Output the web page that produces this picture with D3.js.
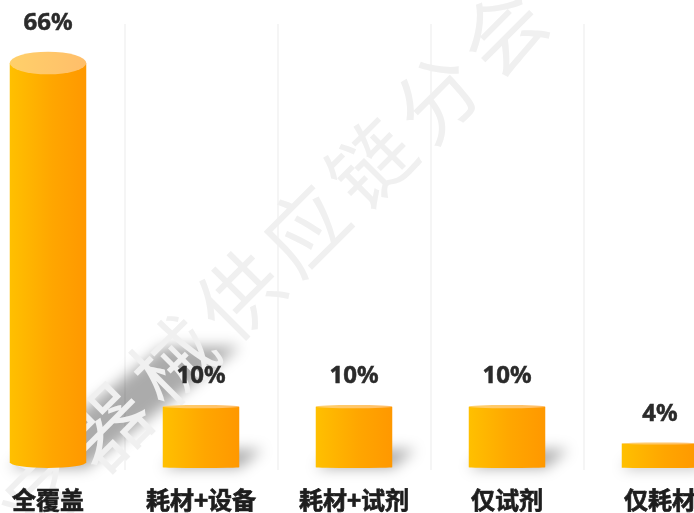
<!DOCTYPE html>
<html>
<head>
<meta charset="utf-8">
<script src="https://cdn.jsdelivr.net/npm/d3@7"></script>
<style>
  html, body { margin: 0; padding: 0; background: #fff; overflow: hidden; }
  svg { display: block; }
</style>
</head>
<body>
<div id="chart"></div>
<script>
// chart data
const categories = ['全覆盖', '耗材+设备', '耗材+试剂', '仅试剂', '仅耗材'];
const shares = [66, 10, 10, 10, 4];
const valueLabels = ['66%', '10%', '10%', '10%', '4%'];
const watermark = '医疗器械供应链分会';

const width = 694;
const height = 513;
const baseY = 468;

const svg = d3.select('#chart')
  .append('svg')
  .attr('width', width)
  .attr('height', height);

const defs = svg.append('defs');

const bodyGrad = defs.append('linearGradient')
  .attr('id', 'body-grad')
  .attr('x1', '0%').attr('x2', '100%').attr('y1', '0%').attr('y2', '0%');
bodyGrad.append('stop').attr('offset', '0%').attr('stop-color', '#ffc000');
bodyGrad.append('stop').attr('offset', '55%').attr('stop-color', '#ffa600');
bodyGrad.append('stop').attr('offset', '100%').attr('stop-color', '#ff9800');

const topGrad = defs.append('linearGradient')
  .attr('id', 'top-grad')
  .attr('x1', '0%').attr('x2', '100%').attr('y1', '0%').attr('y2', '0%');
topGrad.append('stop').attr('offset', '0%').attr('stop-color', '#ffd06a');
topGrad.append('stop').attr('offset', '100%').attr('stop-color', '#ffbe6a');

defs.append('filter')
  .attr('id', 'blur')
  .attr('x', '-50%').attr('y', '-50%').attr('width', '200%').attr('height', '200%')
  .append('feGaussianBlur')
  .attr('stdDeviation', 7);

// scales
const x = d3.scaleBand()
  .domain(categories)
  .range([-28.5, 736.5])
  .paddingInner(0)
  .paddingOuter(0);

const y = d3.scaleLinear()
  .domain([0, 66])
  .range([baseY, 63]);

const barW = x.bandwidth() * 0.5;
const data = categories.map((c, i) => ({ cat: c, v: shares[i], label: valueLabels[i] }));

// grid lines between categories
svg.append('g')
  .selectAll('line')
  .data(categories.slice(1))
  .enter()
  .append('line')
  .attr('x1', d => x(d) + 0.5)
  .attr('x2', d => x(d) + 0.5)
  .attr('y1', 24)
  .attr('y2', 470)
  .attr('stroke', '#ebebeb')
  .attr('stroke-width', 1);

// cast shadows
svg.append('g')
  .attr('filter', 'url(#blur)')
  .selectAll('path')
  .data(data)
  .enter()
  .append('path')
  .attr('d', d => {
    const cx = x(d.cat) + x.bandwidth() / 2;
    const h = baseY - y(d.v);
    const x0 = cx - barW / 2;
    const x1 = cx + barW / 2;
    const dx = h * 0.38;
    const dy = -h * 0.3;
    return `M${x0},${baseY}L${x1},${baseY}L${x1 + dx},${baseY + dy}L${x0 + dx},${baseY + dy}Z`;
  })
  .attr('fill', '#000')
  .attr('opacity', 0.33);

// watermark
svg.append('text')
  .text(watermark)
  .attr('transform', 'translate(104,424) rotate(-45)')
  .attr('x', -226)
  .attr('y', 0)
  .attr('dominant-baseline', 'central')
  .style('font-family', '"Noto Sans CJK SC", sans-serif')
  .style('font-size', '82px')
  .style('font-weight', 400)
  .style('letter-spacing', '11px')
  .attr('fill', '#f0f0f0');

// cylinders
const bars = svg.append('g')
  .selectAll('g')
  .data(data)
  .enter()
  .append('g');

bars.append('path')
  .attr('d', d => {
    const cx = x(d.cat) + x.bandwidth() / 2;
    const h = baseY - y(d.v);
    const rx = barW / 2;
    const ryB = h * 0.014;
    const topY = y(d.v);
    const botC = baseY - ryB;
    return `M${cx - rx},${topY}L${cx - rx},${botC}A${rx},${ryB} 0 0 0 ${cx + rx},${botC}L${cx + rx},${topY}Z`;
  })
  .attr('fill', 'url(#body-grad)');

bars.append('ellipse')
  .attr('cx', d => x(d.cat) + x.bandwidth() / 2)
  .attr('cy', d => y(d.v))
  .attr('rx', barW / 2)
  .attr('ry', d => Math.max(1, (baseY - y(d.v)) * 0.028))
  .attr('fill', 'url(#top-grad)');

// value labels
bars.append('text')
  .text(d => d.label)
  .attr('x', d => x(d.cat) + x.bandwidth() / 2)
  .attr('y', d => y(d.v) - (baseY - y(d.v)) * 0.028 - 22)
  .attr('text-anchor', 'middle')
  .style('font-family', '"Noto Sans", "Open Sans", sans-serif')
  .style('font-size', '24px')
  .style('font-weight', 'bold')
  .attr('fill', '#2b2b2b')
  .attr('stroke', '#2b2b2b')
  .attr('stroke-width', 0.5);

// category labels
svg.append('g')
  .selectAll('text')
  .data(categories)
  .enter()
  .append('text')
  .text(d => d)
  .attr('x', d => x(d) + x.bandwidth() / 2)
  .attr('y', 509)
  .attr('text-anchor', 'middle')
  .style('font-family', '"Noto Sans CJK SC", sans-serif')
  .style('font-size', '24px')
  .style('font-weight', 'bold')
  .attr('fill', '#1e1e1e')
  .attr('stroke', '#1e1e1e')
  .attr('stroke-width', 0.7);
</script>
</body>
</html>
